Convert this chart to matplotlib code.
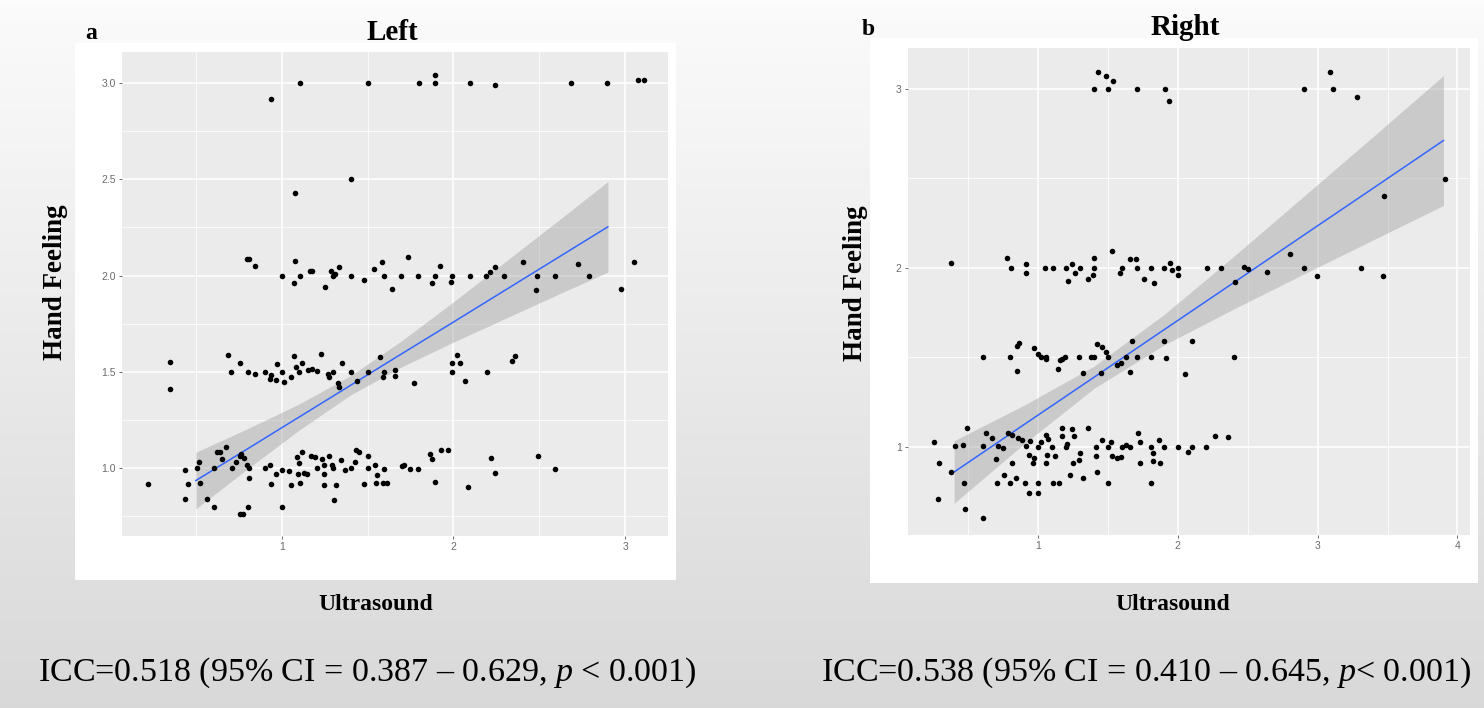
import numpy as np
import matplotlib
matplotlib.use("Agg")
import matplotlib.pyplot as plt
from matplotlib.patches import Rectangle
from matplotlib.ticker import FixedLocator

plt.rcParams['mathtext.fontset'] = 'custom'
plt.rcParams['mathtext.rm'] = 'Liberation Serif'
plt.rcParams['mathtext.it'] = 'Liberation Serif:italic'

# ---------------- data ----------------
left_x = [0.94, 1.104, 1.50, 1.80, 1.895, 1.895, 2.095, 2.24, 2.684, 2.896, 3.073, 3.108,
          1.401, 1.075,
          0.80, 0.81, 0.846, 1.0, 1.075, 1.069, 1.104, 1.165, 1.175, 1.252, 1.287, 1.301, 1.31,
          1.335, 1.401, 1.478, 1.540, 1.584, 1.595, 1.640, 1.696, 1.738, 1.796, 1.875, 1.895,
          1.924, 1.993, 1.987, 2.095, 2.19, 2.211, 2.24, 2.294, 2.408, 2.485, 2.481, 2.589,
          2.726, 2.788, 2.975, 3.052,
          0.352, 0.348, 0.689, 0.706, 0.758, 0.805, 0.846, 0.903, 0.94, 0.93, 0.972, 0.968,
          1.0, 1.011, 1.054, 1.071, 1.085, 1.102, 1.12, 1.156, 1.177, 1.204, 1.231, 1.272,
          1.278, 1.301, 1.349, 1.329, 1.333, 1.401, 1.438, 1.50, 1.573, 1.595, 1.59, 1.661,
          1.661, 1.771, 2.024, 1.993, 1.993, 2.04, 2.07, 2.195, 2.34, 2.357,
          0.224, 0.438, 0.438, 0.453, 0.504, 0.518, 0.522, 0.565, 0.608, 0.608, 0.623, 0.643,
          0.673, 0.653, 0.708, 0.736, 0.76, 0.762, 0.76, 0.775, 0.805, 0.783, 0.809, 0.80,
          0.81, 0.903, 0.934, 0.936, 0.968, 1.0, 1.0, 1.044, 1.054, 1.09, 1.1, 1.094, 1.104,
          1.12, 1.128, 1.149, 1.169, 1.194, 1.204, 1.233, 1.244, 1.248, 1.244, 1.274, 1.294,
          1.301, 1.303, 1.314, 1.343, 1.366, 1.401, 1.428, 1.432, 1.453, 1.478, 1.50, 1.50,
          1.543, 1.553, 1.547, 1.595, 1.59, 1.616, 1.702, 1.71, 1.75, 1.796, 1.862, 1.875,
          1.895, 1.93, 1.966, 2.087, 2.222, 2.24, 2.491, 2.589]
left_y = [2.918, 3.0, 3.0, 3.0, 3.04, 3.0, 3.0, 2.99, 3.0, 3.0, 3.016, 3.016,
          2.501, 2.427,
          2.088, 2.088, 2.051, 2.0, 2.075, 1.959, 2.0, 2.023, 2.023, 1.942, 2.023, 2.0, 2.01,
          2.043, 2.0, 1.977, 2.034, 2.068, 2.0, 1.928, 2.0, 2.098, 2.0, 1.963, 2.0,
          2.051, 2.0, 1.968, 2.0, 2.0, 2.018, 2.043, 2.0, 2.072, 2.0, 1.925, 2.0,
          2.058, 2.0, 1.928, 2.072,
          1.552, 1.410, 1.587, 1.5, 1.544, 1.5, 1.488, 1.5, 1.484, 1.461, 1.538, 1.457,
          1.5, 1.449, 1.474, 1.582, 1.526, 1.5, 1.545, 1.51, 1.514, 1.505, 1.592, 1.488,
          1.474, 1.497, 1.544, 1.44, 1.42, 1.5, 1.452, 1.5, 1.575, 1.5, 1.474, 1.509,
          1.48, 1.443, 1.589, 1.544, 1.5, 1.545, 1.452, 1.5, 1.555, 1.582,
          0.915, 0.839, 0.99, 0.915, 1.0, 1.03, 0.923, 0.839, 0.799, 1.0, 1.085, 1.085,
          1.107, 1.045, 1.0, 1.03, 1.06, 1.075, 0.759, 0.759, 0.799, 1.052, 1.0, 1.017,
          0.946, 1.0, 1.014, 0.915, 0.97, 0.99, 0.80, 0.983, 0.912, 1.059, 1.024, 0.97, 0.92,
          1.085, 0.974, 0.97, 1.064, 1.059, 1.0, 1.045, 1.016, 0.97, 0.912, 1.064, 1.016,
          1.0, 0.834, 0.912, 1.04, 0.99, 1.0, 1.03, 1.095, 1.085, 0.915, 1.0, 1.064,
          1.017, 0.962, 0.924, 0.997, 0.924, 0.924, 1.008, 1.017, 0.997, 0.997, 1.075, 1.046,
          0.927, 1.095, 1.092, 0.901, 1.05, 0.974, 1.064, 0.997]

right_x = [1.43, 1.487, 1.535, 1.40, 1.502, 1.709, 1.906, 1.935, 2.905, 3.089, 3.11, 3.284,
           3.908, 3.475,
           0.377, 0.781, 0.804, 0.914, 0.914, 1.05, 1.107, 1.203, 1.246, 1.217, 1.268, 1.299,
           1.359, 1.395, 1.40, 1.40, 1.531, 1.585, 1.599, 1.659, 1.698, 1.708, 1.757, 1.805,
           1.828, 1.904, 1.941, 1.961, 2.004, 2.004, 2.207, 2.306, 2.408, 2.47, 2.499, 2.64,
           2.804, 2.903, 2.994, 3.311, 3.469,
           0.608, 0.801, 0.852, 0.863, 0.852, 0.971, 0.999, 1.019, 1.056, 1.056, 1.14, 1.16,
           1.174, 1.191, 1.296, 1.324, 1.381, 1.40, 1.424, 1.455, 1.483, 1.503, 1.452, 1.565,
           1.594, 1.627, 1.659, 1.67, 1.707, 1.805, 1.904, 1.918, 2.052, 2.102, 2.402,
           0.255, 0.291, 0.283, 0.377, 0.405, 0.462, 0.467, 0.49, 0.475, 0.608, 0.608, 0.626,
           0.668, 0.697, 0.705, 0.716, 0.752, 0.759, 0.787, 0.80, 0.815, 0.815, 0.843, 0.857,
           0.885, 0.905, 0.913, 0.934, 0.941, 0.934, 0.962, 0.97, 0.999, 0.999, 0.999, 1.019,
           1.056, 1.056, 1.064, 1.07, 1.098, 1.104, 1.12, 1.149, 1.169, 1.174, 1.197, 1.205,
           1.226, 1.24, 1.248, 1.254, 1.29, 1.301, 1.324, 1.356, 1.412, 1.412, 1.424, 1.457,
           1.503, 1.523, 1.503, 1.531, 1.565, 1.594, 1.599, 1.63, 1.655, 1.715, 1.727, 1.727,
           1.805, 1.805, 1.82, 1.826, 1.868, 1.87, 1.904, 2.004, 2.074, 2.102, 2.204, 2.263,
           2.357]
right_y = [3.097, 3.073, 3.046, 3.0, 3.0, 3.0, 3.0, 2.933, 3.0, 3.097, 3.0, 2.953,
           2.497, 2.404,
           2.026, 2.054, 2.002, 2.021, 1.97, 2.0, 2.0, 2.0, 2.021, 1.927, 1.97, 2.0,
           1.937, 1.962, 2.0, 2.058, 2.095, 1.97, 2.0, 2.048, 2.048, 2.0, 1.937, 2.0,
           1.918, 2.0, 2.026, 1.991, 2.0, 1.962, 2.0, 2.0, 1.924, 2.006, 1.995, 1.98,
           2.076, 2.0, 1.955, 2.0, 1.955,
           1.501, 1.501, 1.564, 1.583, 1.426, 1.555, 1.518, 1.501, 1.49, 1.5, 1.436, 1.486,
           1.49, 1.501, 1.501, 1.412, 1.505, 1.5, 1.575, 1.56, 1.532, 1.5, 1.415, 1.458,
           1.467, 1.5, 1.42, 1.594, 1.5, 1.5, 1.59, 1.495, 1.408, 1.59, 1.5,
           1.03, 0.909, 0.709, 0.862, 1.006, 1.011, 0.8, 1.104, 0.652, 1.006, 0.602, 1.08,
           1.05, 0.931, 0.80, 1.006, 0.993, 0.844, 1.08, 0.8, 1.067, 0.912, 0.825, 1.05,
           1.041, 0.80, 1.006, 0.741, 1.034, 0.956, 0.912, 0.936, 0.745, 0.8, 1.002, 1.03,
           1.067, 0.912, 0.956, 1.043, 1.002, 0.80, 0.947, 0.8, 1.104, 1.059, 1.002, 1.015,
           0.844, 1.099, 0.912, 1.059, 0.927, 0.964, 0.825, 1.104, 1.002, 0.95, 0.862, 1.041,
           1.002, 1.03, 0.80, 0.95, 0.936, 0.942, 1.002, 1.011, 1.002, 1.08, 1.03, 0.909,
           1.002, 0.8, 0.964, 0.92, 1.041, 0.909, 1.002, 1.002, 0.974, 1.002, 0.998, 1.059,
           1.056]

# fitted line with confidence band
left_fit_x = [0.5, 0.8, 1.1, 1.4, 1.7, 2.0, 2.3, 2.6, 2.9]
left_fit_y = [0.935, 1.099, 1.264, 1.429, 1.594, 1.758, 1.923, 2.088, 2.253]
left_lo = [0.788, 0.995, 1.196, 1.379, 1.526, 1.654, 1.776, 1.898, 2.018]
left_hi = [1.082, 1.204, 1.332, 1.479, 1.662, 1.863, 2.070, 2.278, 2.488]

right_fit_x = [0.4, 0.9, 1.4, 1.9, 2.4, 2.9, 3.4, 3.9]
right_fit_y = [0.86, 1.125, 1.389, 1.654, 1.918, 2.183, 2.447, 2.712]
right_lo = [0.685, 1.017, 1.327, 1.569, 1.771, 1.966, 2.158, 2.349]
right_hi = [1.035, 1.233, 1.451, 1.739, 2.065, 2.400, 2.736, 3.075]

left_yticks = [1.0, 1.5, 2.0, 2.5, 3.0]
left_yticklabels = ["1.0", "1.5", "2.0", "2.5", "3.0"]
left_xticks = [1, 2, 3]
right_yticks = [1, 2, 3]
right_xticks = [1, 2, 3, 4]

left_stats = "ICC=0.518 (95% CI = 0.387 \u2013 0.629, $p$ < 0.001)"
right_stats = "ICC=0.538 (95% CI = 0.410 \u2013 0.645, $p$< 0.001)"

# ---------------- figure ----------------
W, H = 1484, 708
fig = plt.figure(figsize=(W / 100, H / 100), dpi=100)

def fx(x):
    return x / W

def fy(y):
    return 1 - y / H

# gradient background
bg = fig.add_axes([0, 0, 1, 1], zorder=-10)
grad = np.linspace(0, 1, 256).reshape(-1, 1)
c_top = np.array([0.985, 0.985, 0.985])
c_bot = np.array([0.85, 0.85, 0.85])
img = c_top[None, None, :] * (1 - grad[:, :, None]) + c_bot[None, None, :] * grad[:, :, None]
bg.imshow(img, aspect='auto', extent=[0, 1, 0, 1], origin='upper')
bg.set_xlim(0, 1)
bg.set_ylim(0, 1)
bg.axis('off')
# white boxes
for (x0, y0, x1, y1) in [(75, 43, 676, 580), (870, 38, 1478, 583)]:
    bg.add_patch(Rectangle((fx(x0), fy(y1)), fx(x1) - fx(x0), fy(y0) - fy(y1),
                           facecolor='white', edgecolor='none'))

def style_axes(ax, xlim, ylim, xt, yt, ytl, xminor, yminor):
    ax.set_facecolor('#EBEBEB')
    for s in ax.spines.values():
        s.set_visible(False)
    ax.set_xlim(*xlim)
    ax.set_ylim(*ylim)
    ax.xaxis.set_major_locator(FixedLocator(xt))
    ax.yaxis.set_major_locator(FixedLocator(yt))
    ax.xaxis.set_minor_locator(FixedLocator(xminor))
    ax.yaxis.set_minor_locator(FixedLocator(yminor))
    ax.set_xticklabels([str(v) for v in xt])
    ax.set_yticklabels(ytl)
    ax.grid(True, which='major', color='white', linewidth=1.1, zorder=0)
    ax.grid(True, which='minor', color='white', linewidth=0.55, zorder=0)
    ax.set_axisbelow(True)
    ax.tick_params(which='major', length=2.5, width=0.6, color='#555555',
                   labelsize=7.5, labelcolor='#6a6a6a', pad=2)
    ax.tick_params(which='minor', length=0)
    for lab in ax.get_xticklabels() + ax.get_yticklabels():
        lab.set_family('Liberation Sans')

# left panel
axL = fig.add_axes([fx(122), fy(536), fx(668) - fx(122), fy(52) - fy(536)])
style_axes(axL, (0.07, 3.25), (0.647, 3.161), left_xticks, left_yticks, left_yticklabels,
           [0.5, 1.5, 2.5], [0.75, 1.25, 1.75, 2.25, 2.75])
axL.fill_between(left_fit_x, left_lo, left_hi, color='#999999', alpha=0.4, linewidth=0, zorder=2)
axL.plot(left_fit_x, left_fit_y, color='#3366FF', linewidth=1.1, zorder=3)
axL.scatter(left_x, left_y, s=16, color='black', linewidth=0, zorder=4)

# right panel
axR = fig.add_axes([fx(908), fy(535), fx(1470) - fx(908), fy(48) - fy(535)])
style_axes(axR, (0.07, 4.09), (0.508, 3.229), right_xticks, right_yticks,
           [str(v) for v in right_yticks], [0.5, 1.5, 2.5, 3.5], [0.5, 1.5, 2.5])
axR.fill_between(right_fit_x, right_lo, right_hi, color='#999999', alpha=0.4, linewidth=0, zorder=2)
axR.plot(right_fit_x, right_fit_y, color='#3366FF', linewidth=1.1, zorder=3)
axR.scatter(right_x, right_y, s=16, color='black', linewidth=0, zorder=4)

serif = 'Liberation Serif'
# panel letters and titles
fig.text(fx(85), fy(39), 'a', fontsize=17, fontweight='bold', family=serif, va='baseline', ha='left')
fig.text(fx(862), fy(35), 'b', fontsize=17, fontweight='bold', family=serif, va='baseline', ha='left')
fig.text(fx(392), fy(40), 'Left', fontsize=21, fontweight='bold', family=serif, va='baseline', ha='center')
fig.text(fx(1185), fy(35), 'Right', fontsize=21, fontweight='bold', family=serif, va='baseline', ha='center')

# axis labels
fig.text(fx(55), fy(282), 'Hand Feeling', fontsize=19.5, fontweight='bold', family=serif,
         rotation=90, va='center', ha='center')
fig.text(fx(855), fy(283), 'Hand Feeling', fontsize=19.5, fontweight='bold', family=serif,
         rotation=90, va='center', ha='center')
fig.text(fx(376), fy(605), 'Ultrasound', fontsize=17, fontweight='bold', family=serif,
         va='center', ha='center')
fig.text(fx(1173), fy(605), 'Ultrasound', fontsize=17, fontweight='bold', family=serif,
         va='center', ha='center')

# statistics
fig.text(fx(367), fy(673), left_stats, fontsize=24.5, family=serif, va='center', ha='center')
fig.text(fx(1146), fy(673), right_stats, fontsize=24.5, family=serif, va='center', ha='center')

fig.savefig('out.png', dpi=100)
